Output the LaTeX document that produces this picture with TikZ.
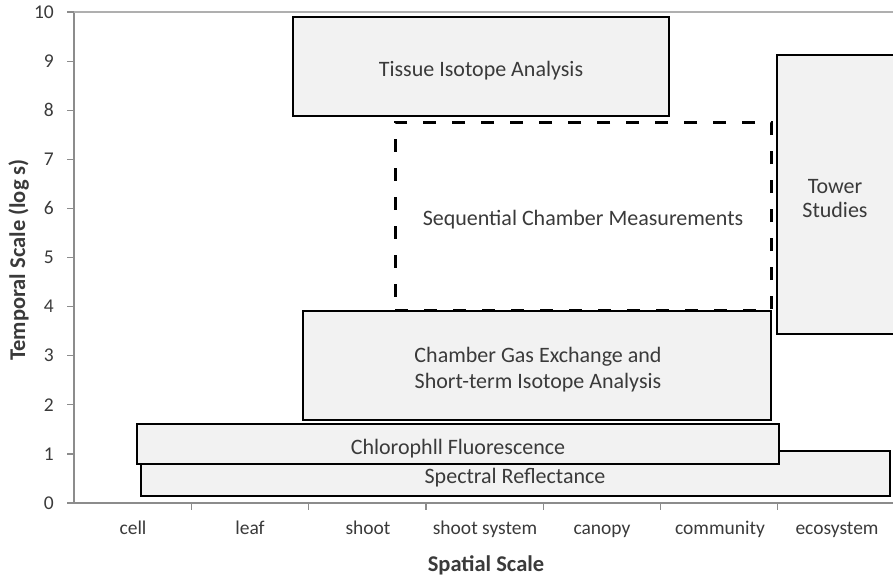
\documentclass[tikz,border=0pt]{standalone}
\usepackage{fontspec}
\setmainfont{Carlito}
\begin{document}
\begin{tikzpicture}[x=1pt,y=-1pt,
  box/.style={draw=black,line width=1.7pt,fill=boxgray,rectangle,inner sep=0pt},
  dashbox/.style={draw=black,line width=3pt,dash pattern=on 13pt off 16pt,rectangle,inner sep=0pt},
  boxtext/.style={text=textgray,font=\fontsize{22}{24}\selectfont,inner sep=0pt,anchor=base,align=center},
  ticklab/.style={text=textgray,font=\fontsize{19.5}{22}\selectfont,inner sep=0pt},
  axtitle/.style={text=textgray,font=\bfseries\fontsize{22.5}{25}\selectfont,inner sep=0pt,anchor=base},
  axisline/.style={draw=axisgray,line width=1.6pt}]
\definecolor{boxgray}{HTML}{F2F2F2}
\definecolor{textgray}{HTML}{3A3A3A}
\definecolor{axisgray}{HTML}{8C8C8C}
\useasboundingbox (0,0) rectangle (893,579);
\clip (0,0) rectangle (893,579);
% axes
\coordinate (o) at (74,503);
\coordinate (ytop) at (74,12);
\coordinate (xend) at (900,503);
\coordinate (tr) at (900,12);
\draw[axisline] (ytop) -- (o) -- (xend);
\draw[draw=axisgray!70,line width=1.4pt] (ytop) -- (tr);
\foreach \i in {0,...,10} {
  \draw[axisline,line width=1.2pt] (67,{503-49.1*\i}) -- (74,{503-49.1*\i});
  \node[ticklab,anchor=east] (yt\i) at (54,{503-49.1*\i}) {\i};
}
\foreach \i in {1,...,6} {
  \draw[axisline,line width=1.2pt] ({74+117.3*\i},503) -- ({74+117.3*\i},510);
}
\node[ticklab,anchor=base] (c1) at (133,534) {cell};
\node[ticklab,anchor=base] (c2) at (250,534) {leaf};
\node[ticklab,anchor=base] (c3) at (368,534) {shoot};
\node[ticklab,anchor=base] (c4) at (485,534) {shoot system};
\node[ticklab,anchor=base] (c5) at (602,534) {canopy};
\node[ticklab,anchor=base] (c6) at (720,534) {community};
\node[ticklab,anchor=base] (c7) at (837,534) {ecosystem};
\node[axtitle] (xt) at (486,571) {Spatial Scale};
\node[axtitle,rotate=90] (yt) at (25,260) {Temporal Scale (log s)};
% boxes
\node[box,minimum width=376pt,minimum height=99pt] (tissue) at (481,66.5) {};
\node[boxtext] (tissuet) at (481,76) {Tissue Isotope Analysis};
\node[dashbox,minimum width=376pt,minimum height=188pt] (seq) at (583,216) {};
\node[boxtext] (seqt) at (583,225) {Sequential Chamber Measurements};
\node[box,minimum width=120pt,minimum height=279pt] (tower) at (837,194.5) {};
\node[boxtext] (towert1) at (835,193) {Tower};
\node[boxtext] (towert2) at (835,217) {Studies};
\node[box,minimum width=468pt,minimum height=109pt] (chamber) at (537,365.5) {};
\node[boxtext] (chambert1) at (538,362) {Chamber Gas Exchange and};
\node[boxtext] (chambert2) at (538,388) {Short-term Isotope Analysis};
\node[box,minimum width=749pt,minimum height=45pt] (spec) at (515.5,473.5) {};
\node[boxtext] (spect) at (515,483) {Spectral Reflectance};
\node[box,minimum width=642pt,minimum height=40pt] (chl) at (458,444) {};
\node[boxtext] (chlt) at (458,454) {Chlorophll Fluorescence};
\end{tikzpicture}
\end{document}
